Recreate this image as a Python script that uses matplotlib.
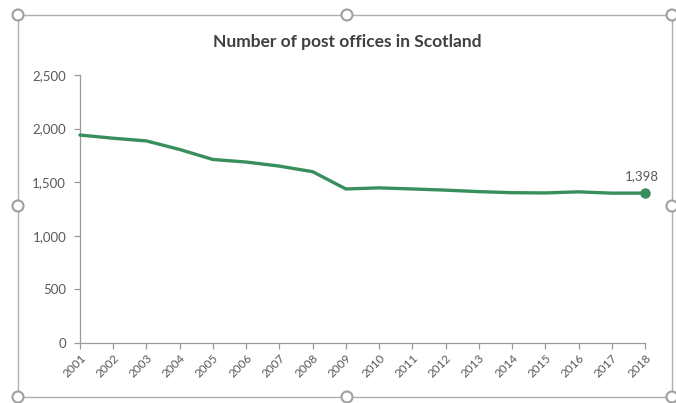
import matplotlib.pyplot as plt
from matplotlib.patches import Circle
from matplotlib.lines import Line2D

years = [str(y) for y in range(2001, 2019)]
offices = [1940, 1910, 1885, 1805, 1712, 1688, 1650, 1598, 1437, 1447,
           1437, 1426, 1412, 1402, 1400, 1410, 1398, 1398]
y_ticks = [0, 500, 1000, 1500, 2000, 2500]

line_col = '#388e5c'
text_col = '#595959'
axis_col = '#9a9a9a'

plt.rcParams['font.family'] = ['Lato', 'DejaVu Sans']

fig = plt.figure(figsize=(6.76, 4.03), dpi=100)
W, H = 676, 403
ax = fig.add_axes([80 / W, (H - 343) / H, (645 - 80) / W, (343 - 75) / H])

x = list(range(len(years)))
ax.plot(x, offices, color=line_col, lw=2.4, solid_capstyle='round', zorder=3, clip_on=False)
ax.plot(x[-1], offices[-1], 'o', color=line_col, ms=6.5, zorder=4, clip_on=False)
ax.annotate(f'{offices[-1]:,}', (x[-1], offices[-1]), xytext=(-2, 8),
            textcoords='offset points', ha='center', va='bottom',
            fontsize=9.5, color=text_col)

ax.set_xlim(0, len(years) - 1)
ax.set_ylim(0, 2500)
ax.set_yticks(y_ticks)
ax.set_yticklabels([f'{v:,}' for v in y_ticks])
ax.set_xticks(x)
ax.set_xticklabels(years, rotation=45, ha='right', va='top', rotation_mode='anchor')

for s in ['top', 'right']:
    ax.spines[s].set_visible(False)
for s in ['left', 'bottom']:
    ax.spines[s].set_color(axis_col)
    ax.spines[s].set_linewidth(0.9)
ax.tick_params(axis='y', colors=axis_col, labelcolor=text_col, labelsize=9.5,
               length=4, width=0.9, pad=6)
ax.tick_params(axis='x', colors=axis_col, labelcolor=text_col, labelsize=8.5,
               length=4, width=0.9, pad=3)

fig.text(347 / W, 1 - 42 / H, 'Number of post offices in Scotland',
         ha='center', va='center', fontsize=12.5, fontweight='bold', color='#404040')

# selection frame with handles
fl, fr, ft, fb = 18 / W, 672 / W, 1 - 15 / H, 1 - 397 / H
fig.add_artist(Line2D([fl, fr, fr, fl, fl], [ft, ft, fb, fb, ft],
                      color='#b0b0b0', lw=1, transform=fig.transFigure))
for hx, hy in [(18, 15), (347, 15), (672, 15), (18, 206), (672, 206),
               (18, 397), (347, 397), (672, 397)]:
    fig.add_artist(Circle((hx, H - hy), 5.5, transform=None, facecolor='white',
                          edgecolor='#a0a0a0', lw=1.5, zorder=10))

fig.savefig('out.png', dpi=100)
